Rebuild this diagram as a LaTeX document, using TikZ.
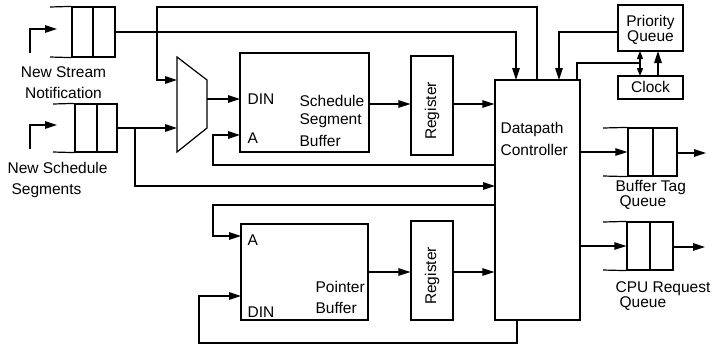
\documentclass[tikz,border=0pt]{standalone}
\usepackage{fontspec}
\setmainfont{Liberation Sans}
\usetikzlibrary{arrows.meta,fit}
\begin{document}
\begin{tikzpicture}[x=1pt,y=-1pt,line width=1.2pt,
  >={Triangle[length=12pt,width=7.5pt]},
  sm/.style={{Triangle[length=8pt,width=6pt]}-{Triangle[length=8pt,width=6pt]}},
  box/.style={draw,rectangle,inner sep=0pt},
  lbl/.style={font=\fontsize{15.5}{17}\selectfont,inner sep=0pt,anchor=base west},
  clbl/.style={font=\fontsize{15.5}{17}\selectfont,inner sep=0pt,anchor=base},
  rlbl/.style={font=\fontsize{15.5}{17}\selectfont,inner sep=0pt,rotate=90}]
\useasboundingbox (0,0) rectangle (714,346);

% ---- boxes
\node[box,fit={(495,80)(580,320)}] (dc) {};
\node[box,fit={(618,5)(683,51)}] (pq) {};
\node[box,fit={(618,76)(683,99)}] (clk) {};
\node[box,fit={(240,53)(369,152)}] (ssb) {};
\node[box,fit={(411,56)(453,155)}] (reg1) {};
\node[box,fit={(241,224)(368,320)}] (pb) {};
\node[box,fit={(411,221)(453,320)}] (reg2) {};

% ---- queues (cells)
\node[box,fit={(72,7)(115,57)}] (q1) {};
\draw (93,7) -- (93,57);
\draw (50,7) -- (q1.north west) (50,57) -- (q1.south west);
\node[box,fit={(75,104)(117,152)}] (q2) {};
\draw (97,104) -- (97,152);
\draw (53,104) -- (q2.north west) (53,152) -- (q2.south west);
\node[box,fit={(628,128)(677,176)}] (btq) {};
\draw (653,128) -- (653,176);
\draw (603,128) -- (btq.north west) (603,176) -- (btq.south west);
\node[box,fit={(627,222)(673,270)}] (cpq) {};
\draw (650,222) -- (650,270);
\draw (603,222) -- (cpq.north west) (603,270) -- (cpq.south west);

% ---- mux
\coordinate (m1) at (177,57);
\coordinate (m2) at (207,80);
\coordinate (m3) at (207,128);
\coordinate (m4) at (177,152);
\draw (m1) -- (m2) -- (m3) -- (m4) -- cycle;

% ---- texts
\node[clbl] (t1) at (63.5,77) {New Stream};
\node[clbl] (t2) at (63.5,98) {Notification};
\node[lbl] (t3) at (7,173) {New Schedule};
\node[lbl] (t4) at (11,194) {Segments};
\node[lbl] (t5) at (247,104.5) {DIN};
\node[lbl] (t6) at (247,143) {A};
\node[lbl] (t7) at (299,106) {Schedule};
\node[lbl] (t8) at (299,124) {Segment};
\node[lbl] (t9) at (299,146) {Buffer};
\node[rlbl] (t10) at (432,111) {Register};
\node[rlbl] (t11) at (432,276) {Register};
\node[lbl] (t12) at (500,133) {Datapath};
\node[lbl] (t13) at (500,155) {Controller};
\node[clbl] (t14) at (650.5,26) {Priority};
\node[clbl] (t15) at (650.5,41) {Queue};
\node[clbl] (t16) at (650.5,92) {Clock};
\node[lbl] (t17) at (615,191) {Buffer Tag};
\node[lbl] (t18) at (619,206) {Queue};
\node[lbl] (t19) at (615,292) {CPU Request};
\node[lbl] (t20) at (619,307) {Queue};
\node[lbl] (t21) at (247,245) {A};
\node[lbl] (t22) at (247,317) {DIN};
\node[lbl] (t23) at (315,292) {Pointer};
\node[lbl] (t24) at (315,313) {Buffer};

% ---- input arrows of the queues
\coordinate (i1) at (30,53); \coordinate (i1e) at (57,29);
\draw[->] (i1) |- (i1e);
\coordinate (i2) at (30,149); \coordinate (i2e) at (57,125);
\draw[->] (i2) |- (i2e);

% ---- connectors
\coordinate (dcA) at (516,80);
\draw[->] (q1.east) -| (dcA);
\coordinate (dcB) at (537,80);
\coordinate (tl) at (157,7);
\coordinate (mi1) at (177,80);
\draw[->] (dcB) |- (tl) |- (mi1);
\coordinate (mi2) at (177,128);
\draw[->] (q2.east |- mi2) -- (mi2);
\coordinate (br) at (135,128);
\coordinate (dcC) at (495,186);
\draw[->] (br) |- (dcC);
\coordinate (mo) at (207,99);
\coordinate (din1) at (240,99);
\draw[->] (mo) -- (din1);
\coordinate (dcD) at (495,165);
\coordinate (a1) at (240,135);
\coordinate (lp1) at (213,165);
\draw[->] (dcD) -- (lp1) |- (a1);
\coordinate (s1) at (369,104);
\draw[->] (s1) -- (s1 -| reg1.west);
\coordinate (r1) at (453,104);
\draw[->] (r1) -- (r1 -| dc.west);
\coordinate (pqw) at (618,32);
\coordinate (dcE) at (559,80);
\draw[->] (pqw) -| (dcE);
\coordinate (dcF) at (577,80);
\coordinate (cj) at (640,63);
\draw (dcF) |- (cj);
\draw[sm] (640,51) -- (640,76);
\draw[->] (658,76) -- (658,51);
\coordinate (dcG) at (580,152);
\draw[->] (dcG) -- (dcG -| btq.west);
\coordinate (bo) at (677,153); \coordinate (boe) at (706,153);
\draw[->] (bo) -- (boe);
\coordinate (dcH) at (580,246);
\draw[->] (dcH) -- (dcH -| cpq.west);
\coordinate (co) at (673,247); \coordinate (coe) at (705,247);
\draw[->] (co) -- (coe);
\coordinate (dcI) at (495,205);
\coordinate (lp2) at (213,205);
\coordinate (a2) at (241,236);
\draw[->] (dcI) -- (lp2) |- (a2);
\coordinate (dcJ) at (517,320);
\coordinate (lp3) at (199,343);
\coordinate (din2) at (241,296);
\draw[->] (dcJ) |- (lp3) |- (din2);
\coordinate (p1) at (368,272);
\draw[->] (p1) -- (p1 -| reg2.west);
\coordinate (r2) at (453,272);
\draw[->] (r2) -- (r2 -| dc.west);
\end{tikzpicture}
\end{document}
